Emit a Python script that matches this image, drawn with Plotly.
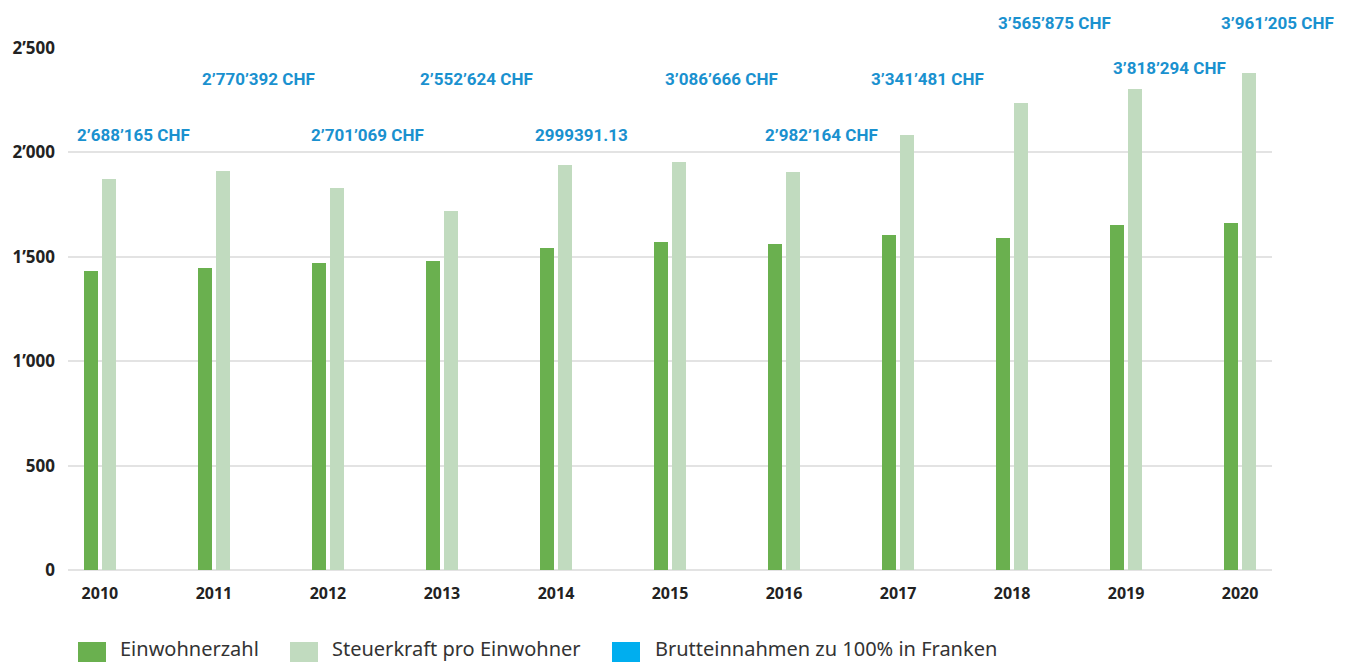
import plotly.graph_objects as go

# ---------------- data ----------------
years = ["2010", "2011", "2012", "2013", "2014", "2015", "2016", "2017", "2018", "2019", "2020"]
einwohnerzahl = [1433, 1446, 1471, 1481, 1543, 1571, 1560, 1605, 1591, 1654, 1661]
steuerkraft = [1873, 1911, 1830, 1721, 1938, 1954, 1908, 2081, 2239, 2303, 2379]
brutto_labels = ["2’688’165 CHF", "2’770’392 CHF", "2’701’069 CHF", "2’552’624 CHF",
                 "2999391.13", "3’086’666 CHF", "2’982’164 CHF", "3’341’481 CHF",
                 "3’565’875 CHF", "3’818’294 CHF", "3’961’205 CHF"]
y_tick_vals = [0, 500, 1000, 1500, 2000, 2500]
y_tick_text = ["0", "500", "1’000", "1’500", "2’000", "2’500"]
legend_names = ["Einwohnerzahl", "Steuerkraft pro Einwohner", "Brutteinnahmen zu 100% in Franken"]

# ---------------- style / layout ----------------
C_DARK = "#6ab04f"
C_LIGHT = "#c1dbbf"
C_BLUE = "#00aeef"
C_LABEL = "#1a91cf"
OFF = 8  # page body margin of the html page
W, H = 1349 - OFF, 662 - OFF
ML, MR, MT, MB = 68 - OFF, 77, 48 - OFF, 92
PW, PH = W - ML - MR, H - MT - MB
Y_MAX = 2500

# label placement (fraction of axis height, pixel shift)
label_pos = [0.833, 0.941, 0.833, 0.941, 0.833, 0.941, 0.833, 0.941, 1.048, 0.962, 1.048]
label_dx = [34, 45, 40, 35, 26, 51, 37, 29, 42, 43, 37]

fig = go.Figure()
fig.add_trace(go.Bar(x=years, y=einwohnerzahl, name=legend_names[0], marker_color=C_DARK,
                     marker_line_width=0, width=0.123, offset=-0.14))
fig.add_trace(go.Bar(x=years, y=steuerkraft, name=legend_names[1], marker_color=C_LIGHT,
                     marker_line_width=0, width=0.123, offset=0.015))

for i, (txt, ly, dx) in enumerate(zip(brutto_labels, label_pos, label_dx)):
    fig.add_annotation(x=i, xref="x", y=ly, yref="paper", text=txt, showarrow=False,
                       xshift=dx, xanchor="center", yanchor="middle",
                       font=dict(family="Liberation Sans Narrow, Roboto, sans-serif",
                                 size=17, color=C_LABEL, weight="bold"))

def px_x(p):
    return (p - OFF - ML) / PW

def px_y(p):
    return (H - MB - (p - OFF)) / PH

legend_sq = [78, 290, 612]
legend_txt = [118, 330, 653]
legend_cols = [C_DARK, C_LIGHT, C_BLUE]
for sx, tx, col, name in zip(legend_sq, legend_txt, legend_cols, legend_names):
    fig.add_shape(type="rect", xref="paper", yref="paper",
                  x0=px_x(sx), x1=px_x(sx + 28), y0=px_y(662), y1=px_y(642),
                  fillcolor=col, line_width=0)
    fig.add_annotation(xref="paper", yref="paper", x=px_x(tx), y=px_y(648), text=name,
                       showarrow=False, xanchor="left", yanchor="middle",
                       font=dict(family="Noto Sans, sans-serif", size=20, color="#333333"))

fig.update_layout(
    width=W, height=H,
    margin=dict(l=ML, r=MR, t=MT, b=MB, autoexpand=False),
    plot_bgcolor="white", paper_bgcolor="white",
    showlegend=False,
    bargap=0,
    xaxis=dict(type="category", range=[-0.28, 10.28], showgrid=False, showline=False,
               zeroline=False, ticks="", ticklabelstandoff=12, automargin=False,
               tickfont=dict(family="Open Sans, sans-serif", size=16, color="#222222", weight="bold")),
    yaxis=dict(range=[0, Y_MAX], tickvals=y_tick_vals, ticktext=y_tick_text,
               showgrid=True, gridcolor="#e3e3e3", gridwidth=2, zeroline=True,
               zerolinecolor="#e3e3e3", zerolinewidth=2, showline=False, ticks="",
               ticklabelstandoff=12, automargin=False,
               tickfont=dict(family="Open Sans, sans-serif", size=17, color="#222222", weight="bold")),
)

fig.write_html("out.html")
